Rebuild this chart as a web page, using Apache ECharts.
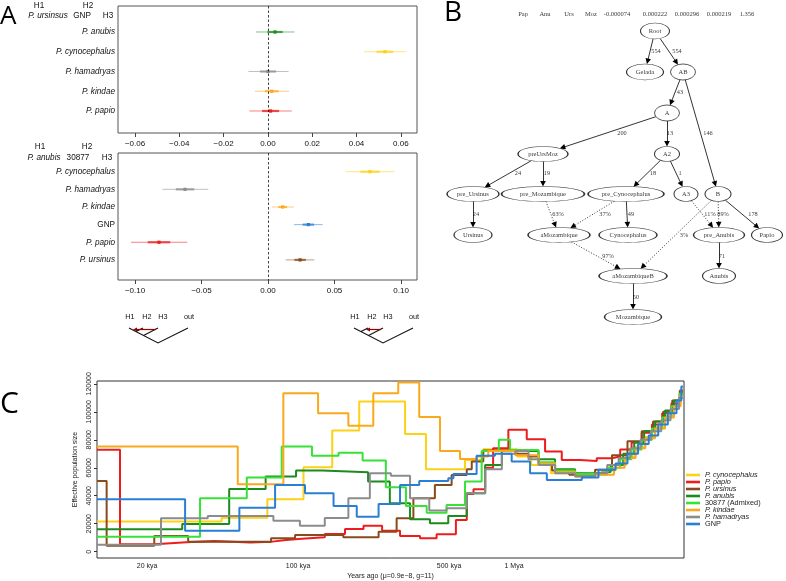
<!DOCTYPE html>
<html><head><meta charset="utf-8">
<script src="https://cdn.jsdelivr.net/npm/echarts@6/dist/echarts.min.js"></script>
<style>html,body{margin:0;padding:0;background:#fff}#c{width:786px;height:581px}</style>
</head><body><div id="c"></div>
<script>
// ---------------- DATA ----------------
// Panel A, top (H1 = P. ursinsus, H2 = GNP)
const fTopNames = ['P. anubis','P. cynocephalus','P. hamadryas','P. kindae','P. papio'];
const fTopEst   = [0.0032, 0.0528, 0.0000, 0.0017, 0.0012];
const fTopLo    = [-0.0054, 0.0435, -0.0088, -0.0059, -0.0084];
const fTopHi    = [0.0120, 0.0623, 0.0093, 0.0096, 0.0108];
const fTopTicks = [-0.06,-0.04,-0.02,0,0.02,0.04,0.06];
// Panel A, bottom (H1 = P. anubis, H2 = 30877)
const fBotNames = ['P. cynocephalus','P. hamadryas','P. kindae','GNP','P. papio','P. ursinus'];
const fBotEst   = [0.0767, -0.0624, 0.0110, 0.0303, -0.0820, 0.0241];
const fBotLo    = [0.0586, -0.0795, 0.0028, 0.0195, -0.1030, 0.0133];
const fBotHi    = [0.0950, -0.0449, 0.0195, 0.0411, -0.0607, 0.0348];
const fBotTicks = [-0.10,-0.05,0,0.05,0.10];

// Panel B admixture graph
const gNodes = ['Root','Gelada','AB','A','preUrsMoz','A2','pre_Ursinus','pre_Mozambique','pre_Cynocephalus','A3','B','Ursinus','aMozambique','Cynocephalus','pre_Anubis','Papio','aMozambiqueB','Anubis','Mozambique'];
const gEdgeFrom = ['Root','Root','AB','A','A','AB','preUrsMoz','preUrsMoz','A2','A2','pre_Ursinus','pre_Mozambique','pre_Cynocephalus','pre_Cynocephalus','A3','B','B','B','aMozambique','pre_Anubis','aMozambiqueB'];
const gEdgeTo   = ['Gelada','AB','A','preUrsMoz','A2','B','pre_Ursinus','pre_Mozambique','pre_Cynocephalus','A3','Ursinus','aMozambique','aMozambique','Cynocephalus','pre_Anubis','pre_Anubis','Papio','aMozambiqueB','aMozambiqueB','Anubis','Mozambique'];
const gEdgeLabel = ['554','554','43','200','13','146','24','19','18','1','24','63%','37%','49','11%','89%','178','3%','97%','71','50'];
const gEdgeAdmix = [0,0,0,0,0,0,0,0,0,0,0,1,1,0,1,1,0,1,1,0,0];
const gHeader = ['Pap','Anu','Urs','Moz','-0.000074','0.000222','0.000296','0.000219','1.356'];

// Panel C PSMC curves: [years ago, Ne]
const psmcNames = ['P. cynocephalus','P. papio','P. ursinus','P. anubis','30877 (Admixed)','P. kindae','P. hamadryas','GNP'];
const cynocephalus = [[11730,21500],[44300,24300],[72100,37500],[106000,60400],[144000,86600],[192000,107300],[313000,84200],[391000,59000],[593000,65600],[720000,73300],[1035000,68000],[1200000,62000],[1480000,56000],[2000000,55000],[2560000,58000],[2950000,62000],[3300000,68000],[3650000,75000],[4050000,82000],[4500000,89000],[5000000,97000],[5500000,106000],[5900000,116000],[6050000,116000]];
const papio = [[11730,72800],[14990,5300],[21700,6700],[30400,7700],[41000,6500],[60000,7200],[76000,8400],[88000,9200],[104000,10300],[133000,12700],[165000,16200],[201000,18600],[245000,15000],[296600,11200],[367000,9600],[438000,12400],[538000,22700],[604000,41300],[649000,44600],[735000,60000],[800000,74000],[941000,87100],[1145000,80400],[1392000,71600],[1663000,65600],[2021000,64900],[2415000,66800],[2834000,68000],[3100000,73000],[3500000,78000],[3900000,85000],[4350000,91000],[4850000,99000],[5350000,106000],[5850000,113000],[6050000,113000]];
const ursinus = [[11730,50600],[13000,4300],[21600,11200],[31000,7200],[75000,9600],[96900,12000],[162000,10300],[236000,14300],[286000,23900],[342000,38200],[430000,47700],[514000,54900],[604000,59000],[637000,64400],[720000,72300],[1014000,70000],[1166000,68000],[1300000,63000],[1500000,58000],[1800000,55000],[2372000,58500],[2840000,69000],[3350000,79000],[3900000,86000],[4400000,93000],[4900000,100000],[5400000,108000],[5850000,115000],[6050000,115000]];
const anubis = [[11730,16000],[29100,19800],[48000,44900],[70800,53700],[97900,58000],[129000,56800],[211000,50100],[266000,34600],[330000,23200],[408000,20300],[496000,25500],[604000,41800],[735000,62000],[878000,72000],[1298000,66000],[1548000,59000],[1917000,56000],[2372000,57000],[2800000,62000],[3200000,70000],[3600000,78000],[4000000,86000],[4500000,93000],[5000000,101000],[5500000,108000],[5900000,114000],[6050000,114000]];
const admixed30877 = [[11730,10700],[35180,38200],[57900,53000],[84000,75100],[116000,68500],[154000,70800],[199000,65100],[255000,46100],[316000,32700],[394000,27900],[487000,33400],[593000,50100],[708000,72000],[850000,80000],[958000,72600],[1298000,64000],[1548000,58000],[1917000,55500],[2372000,55000],[2700000,60000],[3100000,66000],[3500000,73000],[3900000,80000],[4350000,88000],[4850000,96000],[5350000,104000],[5850000,113000],[6050000,113000]];
const kindae = [[11730,75100],[52600,48200],[85500,113300],[123800,99000],[171000,90000],[223000,113300],[291000,121000],[364000,96200],[454000,72000],[562000,66300],[671000,68000],[760000,72000],[1014000,69000],[1298000,63000],[1548000,57000],[1917000,53500],[2372000,55000],[2900000,60000],[3250000,67000],[3650000,74000],[4050000,81000],[4500000,88000],[5000000,96000],[5500000,104000],[5900000,112000],[6050000,112000]];
const hamadryas = [[11730,5000],[23200,23900],[38200,25500],[76900,22200],[102000,18600],[133000,24000],[171000,38200],[215000,56100],[269000,54200],[330000,38200],[405000,29400],[487000,31000],[604000,41800],[735000,59000],[878000,70000],[1014000,72000],[1166000,66000],[1300000,62000],[1550000,56000],[1917000,54000],[2372000,56000],[2700000,62000],[3050000,67000],[3450000,74000],[3850000,80000],[4300000,86000],[4800000,94000],[5300000,102000],[5800000,110000],[6050000,110000]];
const gnp = [[11730,37500],[30000,15000],[53500,31500],[78300,47700],[107700,41800],[146000,32700],[187000,25000],[236000,34100],[296600,47700],[364000,50600],[496000,52500],[524000,55600],[671000,68500],[816000,70000],[975000,64400],[1186000,56100],[1418000,51300],[2058000,53000],[2460000,58500],[2950000,63000],[3350000,70000],[3750000,77000],[4200000,83000],[4650000,91000],[5150000,99000],[5650000,108000],[5950000,118000],[6050000,118000]];
const psmcSeries = [cynocephalus, papio, ursinus, anubis, admixed30877, kindae, hamadryas, gnp];
const yTicksC = [0,20000,40000,60000,80000,100000,120000];
const xTicksC = [20000,100000,500000,1000000];
const xTickLabelsC = ['20 kya','100 kya','500 kya','1 Mya'];

// ---------------- STYLE / LAYOUT ----------------
const SANS = '"Liberation Sans", Arial, sans-serif';
const SERIF = '"Liberation Serif", "Times New Roman", serif';
const colorOf = {
  'P. cynocephalus':'#FCD116','P. papio':'#EE1C1C','P. ursinus':'#8B4A1C','P. anubis':'#1D8A1D',
  '30877 (Admixed)':'#36E236','P. kindae':'#FBA91C','P. hamadryas':'#8C8C8C','GNP':'#2A7FD4'
};
const nodeBox = {Root:[655,31,29,16],Gelada:[645,72,37,16],AB:[683,72,25,16],A:[667,113,25,16],
  preUrsMoz:[543,154,50,15],A2:[667,154,25,15],pre_Ursinus:[473,194,52,15],pre_Mozambique:[543,194,83,15],
  pre_Cynocephalus:[626,194,76,15],A3:[686,194,24,15],B:[718,194,26,15],Ursinus:[473,235,38,15],
  aMozambique:[559,235,62,15],Cynocephalus:[628,235,58,15],pre_Anubis:[719,235,51,15],Papio:[767,235,31,15],
  aMozambiqueB:[633,276,68,15],Anubis:[719,276,33,15],Mozambique:[633,317,57,15]};
const edgeLabelAt = [[656,51],[677,51],[680,92],[622,133],[670,133],[708,133],[518,173],[547,173],[653,173],[680,173],[476,214],[558,214],[605,214],[631,214],[710,214],[723,214],[753,214],[684,235],[608,256],[722,256],[636,297]];
const headerX = [523,545,569,591,617,655,687,719,747];

// ---------------- BUILD ----------------
function forestItems(names, est, lo, hi) {
  return names.map((n, i) => ({ value: [est[i], lo[i], hi[i], i + 1], itemStyle: { color: colorOf[n] } }));
}
function forestRender(params, api) {
  const est = api.value(0), lo = api.value(1), hi = api.value(2), row = api.value(3);
  const c = api.visual('color');
  const hw = (hi - lo) / 5;
  const a = api.coord([lo, row]), b = api.coord([hi, row]);
  const ia = api.coord([est - hw, row]), ib = api.coord([est + hw, row]);
  const p = api.coord([est, row]);
  return { type: 'group', children: [
    { type: 'line', shape: { x1: a[0], y1: a[1], x2: b[0], y2: b[1] }, style: { stroke: c, lineWidth: 1, opacity: 0.55 } },
    { type: 'line', shape: { x1: ia[0], y1: ia[1], x2: ib[0], y2: ib[1] }, style: { stroke: c, lineWidth: 2.2, opacity: 0.75 } },
    { type: 'rect', shape: { x: p[0] - 1.6, y: p[1] - 1.6, width: 3.2, height: 3.2 }, style: { fill: c } }
  ]};
}
function richName(n) { return n.startsWith('P.') ? '{i|' + n + '}' : '{n|' + n + '}'; }
function fmtTick(v) { const s = Math.abs(v).toFixed(2); return (v < -1e-9 ? '\u2212' : '') + s; }
const richA = { i: { fontStyle: 'italic', fontFamily: SANS, fontSize: 8.2, color: '#111' }, n: { fontFamily: SANS, fontSize: 8.2, color: '#111' } };

function boundary(n, tx, ty) {
  const [cx, cy, w, h] = nodeBox[n];
  const dx = tx - cx, dy = ty - cy, L = Math.hypot(dx, dy);
  const ux = dx / L, uy = dy / L;
  const t = 1 / Math.sqrt((ux / (w / 2)) ** 2 + (uy / (h / 2)) ** 2);
  return [cx + ux * t, cy + uy * t, ux, uy];
}
const edgeData = gEdgeFrom.map((f, i) => {
  const t = gEdgeTo[i];
  const s = boundary(f, nodeBox[t][0], nodeBox[t][1]);
  const e = boundary(t, nodeBox[f][0], nodeBox[f][1]);
  return { coords: [[s[0], s[1]], [e[0] + e[2] * 2.8, e[1] + e[3] * 2.8]],
           lineStyle: { type: gEdgeAdmix[i] ? [1, 1.8] : 'solid' } };
});
const nodeData = gNodes.map(n => ({ name: n, value: [nodeBox[n][0], nodeBox[n][1]], symbolSize: [nodeBox[n][2], nodeBox[n][3]] }));
const edgeLabelData = gEdgeLabel.map((l, i) => ({ name: l, value: edgeLabelAt[i] }));
const headerData = gHeader.map((h, i) => ({ name: h, value: [headerX[i], 14] }));

const hidden = { show: false };
const noLine = { show: false, onZero: false };
const option = {
  animation: false,
  backgroundColor: '#fff',
  grid: [
    { left: 118, top: 6, width: 299, height: 127, show: true, borderColor: '#555', borderWidth: 1 },
    { left: 118, top: 153, width: 299, height: 127, show: true, borderColor: '#555', borderWidth: 1 },
    { left: 330, top: 0, width: 456, height: 340, show: false },
    { left: 97, top: 381, width: 587, height: 177, show: true, borderColor: '#333', borderWidth: 1 }
  ],
  xAxis: [
    { gridIndex: 0, type: 'value', position: 'bottom', min: -0.0677, max: 0.0673, axisLine: noLine, splitLine: hidden,
      axisTick: { customValues: fTopTicks, length: 4, lineStyle: { color: '#444' } },
      axisLabel: { customValues: fTopTicks, formatter: fmtTick, fontFamily: SANS, fontSize: 8, color: '#111', margin: 7 } },
    { gridIndex: 1, type: 'value', position: 'bottom', min: -0.1128, max: 0.1120, axisLine: noLine, splitLine: hidden,
      axisTick: { customValues: fBotTicks, length: 4, lineStyle: { color: '#444' } },
      axisLabel: { customValues: fBotTicks, formatter: fmtTick, fontFamily: SANS, fontSize: 8, color: '#111', margin: 7 } },
    { gridIndex: 2, type: 'value', min: 330, max: 786, show: false },
    { gridIndex: 3, type: 'log', logBase: 10, position: 'bottom', min: 11730, max: 6120000, axisLine: noLine, splitLine: hidden, axisTick: hidden,
      axisLabel: { customValues: xTicksC, formatter: v => xTickLabelsC[xTicksC.findIndex(t => Math.abs(t - v) / t < 1e-6)] || '',
        fontFamily: SANS, fontSize: 7, color: '#222', margin: 5 },
      name: 'Years ago (\u03bc=0.9e\u22128, g=11)', nameLocation: 'middle', nameGap: 15,
      nameTextStyle: { fontFamily: SANS, fontSize: 7, color: '#222' } }
  ],
  yAxis: [
    { gridIndex: 0, type: 'value', inverse: true, min: -0.316, max: 6.114, axisLine: noLine, axisTick: hidden, splitLine: hidden,
      axisLabel: { customValues: [1,2,3,4,5], formatter: v => richName(fTopNames[Math.round(v) - 1]), rich: richA, margin: 3 } },
    { gridIndex: 1, type: 'value', inverse: true, min: -0.06, max: 7.14, axisLine: noLine, axisTick: hidden, splitLine: hidden,
      axisLabel: { customValues: [1,2,3,4,5,6], formatter: v => richName(fBotNames[Math.round(v) - 1]), rich: richA, margin: 3 } },
    { gridIndex: 2, type: 'value', inverse: true, min: 0, max: 340, show: false },
    { gridIndex: 3, type: 'value', min: -4500, max: 122000, axisLine: noLine, splitLine: hidden,
      axisTick: { customValues: yTicksC, length: 3, lineStyle: { color: '#333' } },
      axisLabel: { customValues: yTicksC, formatter: v => String(Math.round(v)), rotate: 90, fontFamily: SANS, fontSize: 7, color: '#222', margin: 4 },
      name: 'Effective population size', nameLocation: 'middle', nameGap: 17, nameRotate: 90,
      nameTextStyle: { fontFamily: SANS, fontSize: 7, color: '#222' } }
  ],
  legend: {
    orient: 'vertical', left: 686, top: 471.5, itemWidth: 14, itemHeight: 2.6, itemGap: 0, icon: 'rect', padding: 0,
    selectedMode: false, data: psmcNames, formatter: richName,
    textStyle: { fontFamily: SANS, fontSize: 7.3, color: '#222',
      rich: { i: { fontStyle: 'italic', fontFamily: SANS, fontSize: 7.3, lineHeight: 8.9, color: '#222' },
              n: { fontFamily: SANS, fontSize: 7.3, lineHeight: 8.9, color: '#222' } } }
  },
  series: [
    { type: 'custom', name: 'forestTop', xAxisIndex: 0, yAxisIndex: 0, renderItem: forestRender,
      encode: { x: [0, 1, 2], y: 3 }, data: forestItems(fTopNames, fTopEst, fTopLo, fTopHi), z: 3,
      markLine: { silent: true, symbol: 'none', label: hidden, lineStyle: { type: [2.5, 2], color: '#111', width: 0.8 }, data: [{ xAxis: 0 }] } },
    { type: 'custom', name: 'forestBot', xAxisIndex: 1, yAxisIndex: 1, renderItem: forestRender,
      encode: { x: [0, 1, 2], y: 3 }, data: forestItems(fBotNames, fBotEst, fBotLo, fBotHi), z: 3,
      markLine: { silent: true, symbol: 'none', label: hidden, lineStyle: { type: [2.5, 2], color: '#111', width: 0.8 }, data: [{ xAxis: 0 }] } },
    { type: 'lines', name: 'edges', coordinateSystem: 'cartesian2d', xAxisIndex: 2, yAxisIndex: 2, z: 2,
      symbol: ['none', 'triangle'], symbolSize: [4.2, 5.6], lineStyle: { color: '#000', width: 0.8, opacity: 1 },
      itemStyle: { color: '#000' }, data: edgeData },
    { type: 'scatter', name: 'nodes', xAxisIndex: 2, yAxisIndex: 2, z: 4,
      symbol: 'path://M0 50A50 50 0 1 1 100 50A50 50 0 1 1 0 50Z',
      itemStyle: { color: '#fff', borderColor: '#000', borderWidth: 0.8 },
      label: { show: true, position: 'inside', formatter: '{b}', fontFamily: SERIF, fontSize: 6.5, color: '#000' },
      data: nodeData },
    { type: 'scatter', name: 'edgeLabels', xAxisIndex: 2, yAxisIndex: 2, z: 5, symbolSize: 1,
      itemStyle: { color: 'rgba(0,0,0,0)' },
      label: { show: true, position: 'inside', formatter: '{b}', fontFamily: SERIF, fontSize: 6.3, color: '#000' },
      data: edgeLabelData },
    { type: 'scatter', name: 'header', xAxisIndex: 2, yAxisIndex: 2, z: 5, symbolSize: 1,
      itemStyle: { color: 'rgba(0,0,0,0)' },
      label: { show: true, position: 'inside', formatter: '{b}', fontFamily: SERIF, fontSize: 6.5, color: '#000' },
      data: headerData }
  ].concat(psmcNames.map((n, i) => ({
    type: 'line', name: n, xAxisIndex: 3, yAxisIndex: 3, data: psmcSeries[i], step: 'end',
    showSymbol: false, symbol: 'none', z: 10 + i,
    lineStyle: { width: 2, color: colorOf[n] }, itemStyle: { color: colorOf[n] }
  }))),
  graphic: (function () {
    const g = [];
    const txt = (x, y, s, o) => g.push(Object.assign({ type: 'text', x, y, style: Object.assign({ text: s, fontFamily: SANS, fontSize: 8.2, fill: '#111', textAlign: 'center', textVerticalAlign: 'middle' }, o || {}) }));
    // panel letters
    txt(0, 17, 'A', { fontFamily: '"Open Sans", sans-serif', fontSize: 26, textAlign: 'left', fill: '#000' });
    txt(444, 13, 'B', { fontFamily: '"Open Sans", sans-serif', fontSize: 28, textAlign: 'left', fill: '#000' });
    txt(0, 404, 'C', { fontFamily: '"Open Sans", sans-serif', fontSize: 30, textAlign: 'left', fill: '#000' });
    // panel A headers
    txt(39, 5.5, 'H1'); txt(88, 5.5, 'H2');
    txt(48, 16, 'P. ursinsus', { fontStyle: 'italic' }); txt(82, 16, 'GNP'); txt(108, 16, 'H3');
    txt(40, 147, 'H1'); txt(87, 147, 'H2');
    txt(44, 158, 'P. anubis', { fontStyle: 'italic' }); txt(78, 158, '30877'); txt(107, 158, 'H3');
    // trees
    [[0, 'H1'], [225, 'H2']].forEach(([dx, target]) => {
      const lx = [130, 147, 163, 189];
      ['H1', 'H2', 'H3', 'out'].forEach((s, k) => txt(lx[k] + dx, 317, s, { fontSize: 7.3 }));
      const ls = { stroke: '#111', lineWidth: 1.1 };
      g.push({ type: 'polyline', shape: { points: [[129 + dx, 328], [158 + dx, 343], [188 + dx, 328]] }, style: ls });
      g.push({ type: 'line', shape: { x1: 158 + dx, y1: 328, x2: 143.5 + dx, y2: 335.5 }, style: ls });
      g.push({ type: 'line', shape: { x1: 143 + dx, y1: 328, x2: 136 + dx, y2: 331.6 }, style: ls });
      const xEnd = target === 'H1' ? 133 + dx : 141 + dx;
      g.push({ type: 'line', shape: { x1: 156 + dx, y1: 329.5, x2: xEnd + 3, y2: 329.5 }, style: { stroke: '#9B0000', lineWidth: 1.2 } });
      g.push({ type: 'polygon', shape: { points: [[xEnd, 329.5], [xEnd + 4, 327.6], [xEnd + 4, 331.4]] }, style: { fill: '#9B0000' } });
    });
    return g;
  })()
};
const chart = echarts.init(document.getElementById('c'), null, { renderer: 'canvas' });
chart.setOption(option);
</script></body></html>
